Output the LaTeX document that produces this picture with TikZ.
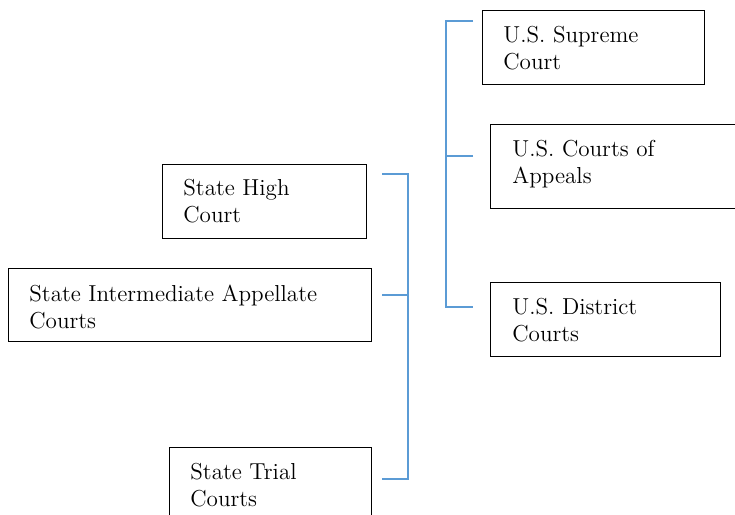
\documentclass[tikz,border=0pt]{standalone}
\usetikzlibrary{positioning}
\definecolor{linkblue}{HTML}{5B9BD5}
\begin{document}
\begin{tikzpicture}[x=0.5pt,y=-0.5pt,
  court/.style={draw, line width=0.7pt, anchor=north west, minimum height=37pt, inner sep=0pt},
  courttext/.style={anchor=north west, inner sep=0pt, align=left, font=\fontsize{11.55}{13.5}\selectfont},
  link/.style={draw=linkblue, line width=0.8pt}]
\useasboundingbox (0,0) rectangle (735,515);
% federal courts
\node[court, minimum width=111pt] (sup) at (482,10) {};
\node[court, minimum width=126pt, minimum height=42pt] (app) at (490,124) {};
\node[court, minimum width=115pt] (dist) at (490,282) {};
% state courts
\node[court, minimum width=102pt] (high) at (162,164) {};
\node[court, minimum width=181.5pt, minimum height=36.5pt] (inter) at (8,268) {};
\node[court, minimum width=101pt] (trial) at (169,447) {};
% labels
\node[courttext] (suptxt) at ([shift={(10.5pt,-8pt)}]sup.north west) {U.S. Supreme\\Court};
\node[courttext] (apptxt) at ([shift={(11pt,-8pt)}]app.north west) {U.S. Courts of\\Appeals};
\node[courttext] (disttxt) at ([shift={(11pt,-8pt)}]dist.north west) {U.S. District\\Courts};
\node[courttext] (hightxt) at ([shift={(10.5pt,-7.5pt)}]high.north west) {State High\\Court};
\node[courttext] (intertxt) at ([shift={(10.5pt,-8.5pt)}]inter.north west) {State Intermediate Appellate\\Courts};
\node[courttext] (trialtxt) at ([shift={(10.5pt,-8pt)}]trial.north west) {State Trial\\Courts};
% brackets
\foreach \n/\y in {1/21,2/156,3/307} {
  \coordinate (f\n) at (473,\y);
  \coordinate (fs\n) at (446,\y);
}
\foreach \n/\y in {1/174,2/295,3/479} {
  \coordinate (s\n) at (382,\y);
  \coordinate (ss\n) at (408,\y);
}
\draw[link] (f1) -- (fs1) -- (fs3) -- (f3);
\draw[link] (f2) -- (fs2);
\draw[link] (s1) -- (ss1) -- (ss3) -- (s3);
\draw[link] (s2) -- (ss2);
\end{tikzpicture}
\end{document}
